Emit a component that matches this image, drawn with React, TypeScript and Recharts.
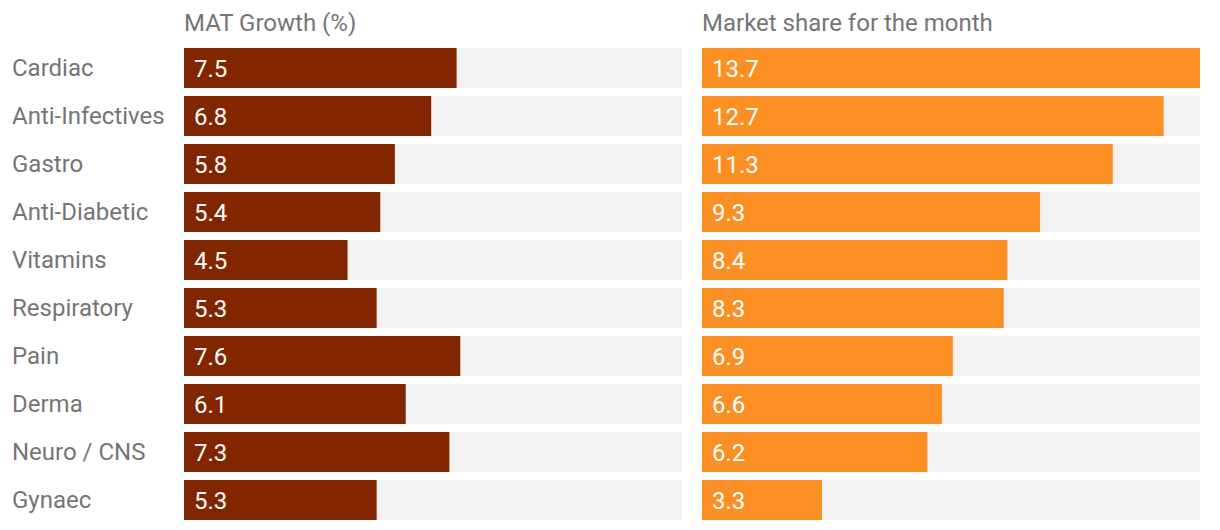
import React from "react";
import { BarChart, Bar, XAxis, YAxis, LabelList } from "recharts";

const categories = ["Cardiac", "Anti-Infectives", "Gastro", "Anti-Diabetic", "Vitamins", "Respiratory", "Pain", "Derma", "Neuro / CNS", "Gynaec"];
const matGrowth = [7.5, 6.8, 5.8, 5.4, 4.5, 5.3, 7.6, 6.1, 7.3, 5.3];
const marketShare = [13.7, 12.7, 11.3, 9.3, 8.4, 8.3, 6.9, 6.6, 6.2, 3.3];
const titles = ["MAT Growth (%)", "Market share for the month"];

const data = categories.map((c, i) => ({ cat: c, mat: matGrowth[i], share: marketShare[i] }));

const FONT = "Roboto, 'Noto Sans', sans-serif";
const GREY = "#757575";
const FS = 24;

const CatTick = (props: any) => {
  const { y, payload } = props;
  return (
    <text x={12} y={y} dy="0.35em" textAnchor="start" fill={GREY} fontSize={FS} fontFamily={FONT}>
      {payload.value}
    </text>
  );
};

export default function App() {
  return (
    <div style={{ position: "absolute", left: 0, top: 0, width: 1220, height: 530, background: "#fff", fontFamily: FONT }}>
      <div style={{ position: "absolute", left: 184, top: 9, fontSize: FS, color: GREY, lineHeight: "28px", whiteSpace: "nowrap" }}>{titles[0]}</div>
      <div style={{ position: "absolute", left: 702, top: 9, fontSize: FS, color: GREY, lineHeight: "28px", whiteSpace: "nowrap" }}>{titles[1]}</div>
      <div style={{ position: "absolute", left: 0, top: 0 }}>
        <BarChart width={682} height={530} data={data} layout="vertical" margin={{ top: 44, right: 0, bottom: 6, left: 0 }} barCategoryGap={4}>
          <XAxis type="number" domain={[0, 13.7]} hide />
          <YAxis type="category" dataKey="cat" width={184} axisLine={false} tickLine={false} tick={<CatTick />} interval={0} />
          <Bar dataKey="mat" fill="#822600" barSize={40} background={{ fill: "#f2f2f2" }} isAnimationActive={false}>
            <LabelList dataKey="mat" position="insideLeft" offset={10} fill="#ffffff" fontSize={FS} fontFamily={FONT} />
          </Bar>
        </BarChart>
      </div>
      <div style={{ position: "absolute", left: 682, top: 0 }}>
        <BarChart width={538} height={530} data={data} layout="vertical" margin={{ top: 44, right: 20, bottom: 6, left: 20 }} barCategoryGap={4}>
          <XAxis type="number" domain={[0, 13.7]} hide />
          <YAxis type="category" dataKey="cat" hide />
          <Bar dataKey="share" fill="#fb8f24" barSize={40} background={{ fill: "#f2f2f2" }} isAnimationActive={false}>
            <LabelList dataKey="share" position="insideLeft" offset={10} fill="#ffffff" fontSize={FS} fontFamily={FONT} />
          </Bar>
        </BarChart>
      </div>
    </div>
  );
}
